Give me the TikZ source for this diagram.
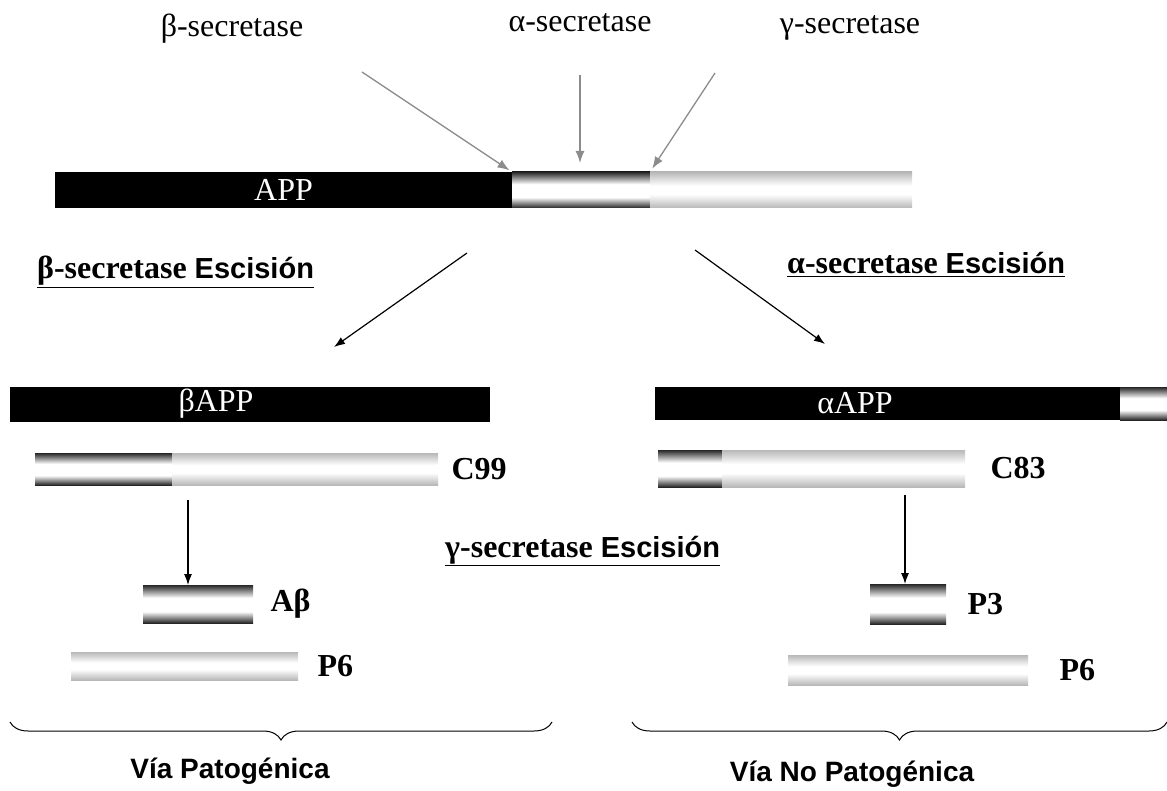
\documentclass[tikz,border=0pt]{standalone}
\usepackage{fontspec}
\setmainfont{Liberation Serif}
\newfontfamily\arialfont{Liberation Sans}
\usetikzlibrary{shapes,arrows.meta,positioning,decorations.pathreplacing}
\newcommand{\serifbig}{\fontsize{32}{34}\selectfont}
\newcommand{\sansbig}{\arialfont\bfseries\fontsize{28}{30}\selectfont}
\newcommand{\cutsans}[1]{{\arialfont\bfseries\fontsize{29}{30}\selectfont #1}}
\pgfdeclareverticalshading{darkbar}{100bp}{color(0bp)=(black!85); color(25bp)=(black!85); color(40bp)=(white); color(58bp)=(white); color(75bp)=(black!85); color(100bp)=(black!85)}
\pgfdeclareverticalshading{lightbar}{100bp}{color(0bp)=(black!28); color(25bp)=(black!28); color(44bp)=(white); color(56bp)=(white); color(75bp)=(black!28); color(100bp)=(black!28)}
\tikzstyle{garrow} = [draw=black!45, -{Latex[length=12pt,width=9pt]}, line width=1.3pt]
\tikzstyle{barrow} = [draw, -{Latex[length=11pt,width=8pt]}, line width=1.2pt]
\tikzstyle{seg} = [rectangle, inner sep=0pt, outer sep=0pt]
\tikzstyle{blackseg} = [seg, fill=black, text=white, font=\serifbig]
\tikzstyle{darkseg} = [seg, shade, shading=darkbar]
\tikzstyle{lightseg} = [seg, shade, shading=lightbar]
\tikzstyle{bartext} = [text=white, font=\serifbig]
\tikzstyle{enzyme} = [font=\serifbig, anchor=base]
\tikzstyle{frag} = [font=\serifbig\bfseries]
\tikzstyle{cleave} = [font=\serifbig, anchor=base west, inner sep=0pt]
\tikzstyle{pathway} = [font=\sansbig]
\tikzstyle{curly} = [draw, line width=1pt, decorate, decoration={brace, amplitude=18pt, mirror}]

\begin{document}
\begin{tikzpicture}[x=1pt, y=-1pt]
        \useasboundingbox (0,0) rectangle (1167,791);
        % secretases
        \node[enzyme] (beta) at (232,37) {β-secretase};
        \node[enzyme] (alpha) at (580,32) {α-secretase};
        \node[enzyme] (gamma) at (850,34) {γ-secretase};
        % APP
        \node[blackseg, minimum width=457pt, minimum height=36pt, anchor=north west] (app) at (55,172) {APP};
        \node[darkseg, minimum width=138pt, minimum height=36pt, right=0pt of app] (appmid) {};
        \node[lightseg, minimum width=262pt, minimum height=36pt, right=0pt of appmid] (append) {};
        \coordinate (bstart) at (362,72);
        \coordinate (astart) at (580,75);
        \coordinate (gstart) at (715,73);
        \path[garrow, shorten >=3pt] (bstart) -- (appmid.north west);
        \path[garrow, shorten >=9pt] (astart) -- (astart |- appmid.north);
        \path[garrow, shorten >=4pt] (gstart) -- (appmid.north east);
        % cleavage
        \node[cleave] (bcut) at (37,279) {\underline{\textbf{β-secretase} \cutsans{Escisión}}};
        \node[cleave] (acut) at (787,274) {\underline{\textbf{α-secretase} \cutsans{Escisión}}};
        \coordinate (lstart) at (467,253);
        \coordinate (lend) at (334,347);
        \coordinate (rstart) at (695,250);
        \coordinate (rend) at (825,344);
        \path[barrow] (lstart) -- (lend);
        \path[barrow] (rstart) -- (rend);
        % pathogenic side
        \node[blackseg, minimum width=480pt, minimum height=35pt, anchor=north west] (bapp) at (10,387) {};
        \node[bartext] (bapptext) at (216,404) {βAPP};
        \node[darkseg, minimum width=137pt, minimum height=32pt, anchor=north west] (c99a) at (35,453) {};
        \node[lightseg, minimum width=266pt, minimum height=32pt, right=0pt of c99a] (c99b) {};
        \node[frag, right=10pt of c99b] (c99) {C99};
        \node[darkseg, minimum width=110pt, minimum height=38pt, anchor=north west] (ab) at (143,585) {};
        \node[frag, right=14pt of ab] (abtext) {Aβ};
        \node[lightseg, minimum width=227pt, minimum height=28pt, anchor=north west] (p6l) at (71,652) {};
        \node[frag, right=16pt of p6l] (p6ltext) {P6};
        \coordinate (c99cut) at (188,500);
        \path[barrow] (c99cut) -- (c99cut |- ab.north);
        % non-pathogenic side
        \node[blackseg, minimum width=465pt, minimum height=33pt, anchor=north west] (aapp) at (655,387) {};
        \node[darkseg, minimum width=47pt, minimum height=33pt, right=0pt of aapp] (aappend) {};
        \node[bartext] (aapptext) at (855,403) {αAPP};
        \node[darkseg, minimum width=64pt, minimum height=37pt, anchor=north west] (c83a) at (658,450) {};
        \node[lightseg, minimum width=243pt, minimum height=37pt, right=0pt of c83a] (c83b) {};
        \node[frag, right=22pt of c83b] (c83) {C83};
        \node[darkseg, minimum width=76pt, minimum height=40pt, anchor=north west] (p3) at (870,584) {};
        \node[frag, right=18pt of p3] (p3text) {P3};
        \node[lightseg, minimum width=240pt, minimum height=30pt, anchor=north west] (p6r) at (788,655) {};
        \node[frag, right=28pt of p6r] (p6rtext) {P6};
        \coordinate (c83cut) at (905,495);
        \path[barrow] (c83cut) -- (c83cut |- p3.north);
        % gamma cleavage
        \node[cleave] (gcut) at (445,557) {\underline{\textbf{γ-secretase} \cutsans{Escisión}}};
        % pathways
        \coordinate (lbl) at (10,722);
        \coordinate (lbr) at (552,722);
        \coordinate (rbl) at (632,722);
        \coordinate (rbr) at (1167,722);
        \draw[curly] (lbl) -- (lbr);
        \draw[curly] (rbl) -- (rbr);
        \node[pathway] (pato) at (230,771) {Vía Patogénica};
        \node[pathway] (nopato) at (852,774) {Vía No Patogénica};
    \end{tikzpicture}
\end{document}
